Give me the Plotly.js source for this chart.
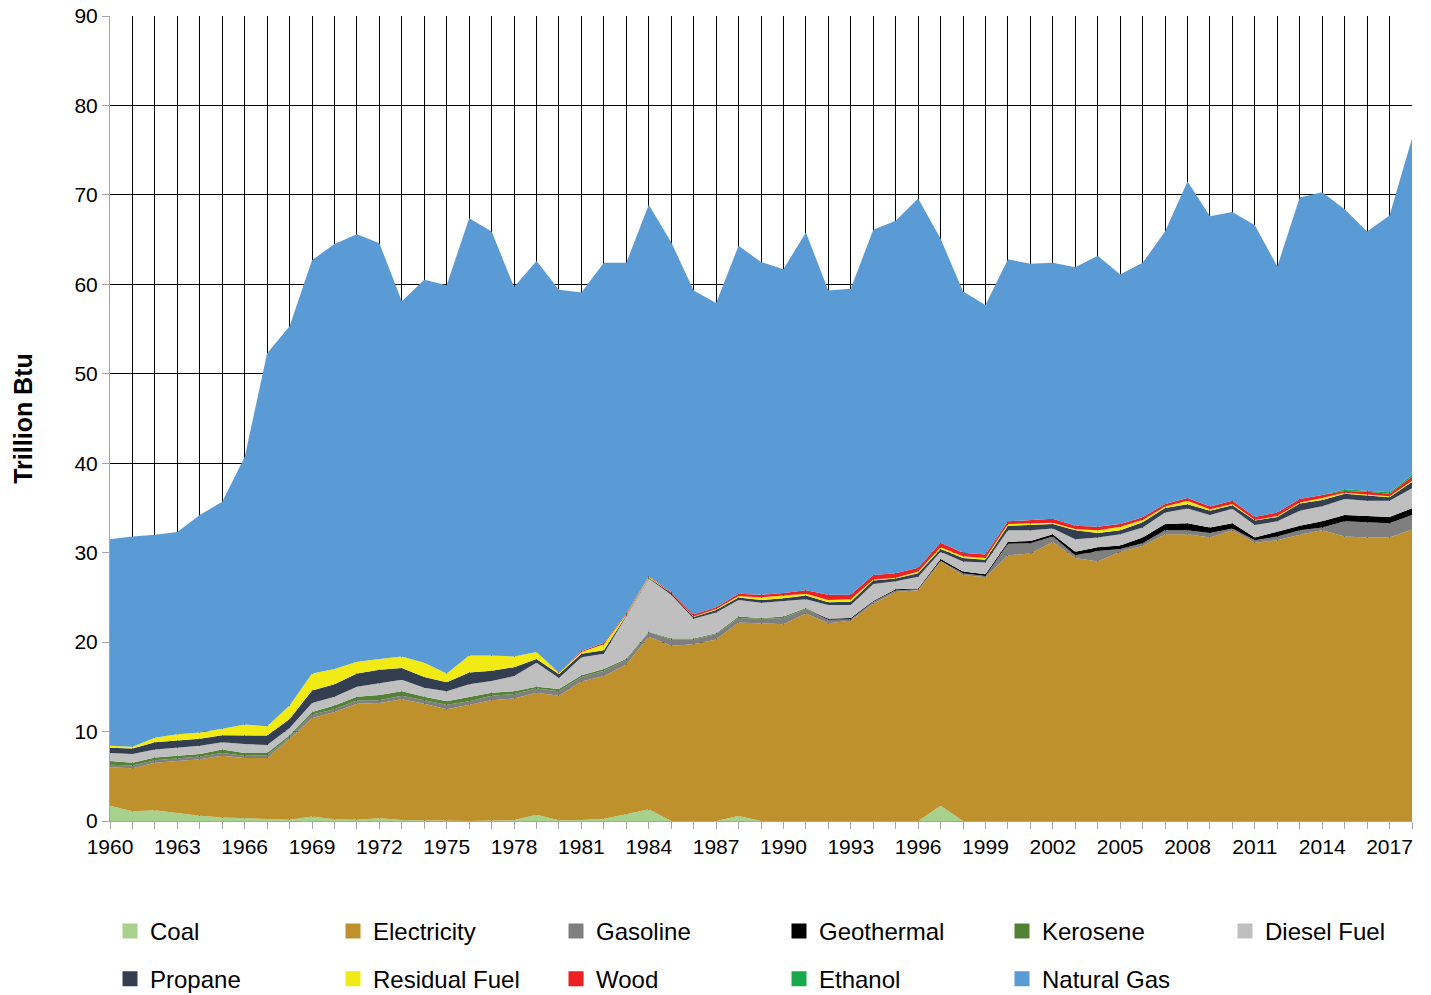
<!DOCTYPE html>
<html>
<head>
<meta charset="utf-8">
<script src="https://cdn.plot.ly/plotly-3.0.1.min.js"></script>
<style>html,body{margin:0;padding:0;background:#fff;}#chart{width:1431px;height:995px;}</style>
</head>
<body>
<div id="chart"></div>
<script>
const years = [
  1960,1961,1962,1963,1964,1965,1966,1967,1968,1969,
  1970,1971,1972,1973,1974,1975,1976,1977,1978,1979,
  1980,1981,1982,1983,1984,1985,1986,1987,1988,1989,
  1990,1991,1992,1993,1994,1995,1996,1997,1998,1999,
  2000,2001,2002,2003,2004,2005,2006,2007,2008,2009,
  2010,2011,2012,2013,2014,2015,2016,2017,2018];

const xTickLabels = ['1960','1963','1966','1969','1972','1975','1978','1981','1984','1987',
  '1990','1993','1996','1999','2002','2005','2008','2011','2014','2017'];

const coal = [
  1.7,1.1,1.2,0.9,0.6,0.4,0.3,0.2,0.15,0.5,
  0.2,0.15,0.3,0.1,0.05,0,0,0.05,0.1,0.7,
  0.07,0.1,0.26,0.75,1.3,0,0,0,0.55,0,
  0,0,0,0,0,0,0,1.7,0,0,
  0,0,0,0,0,0,0,0,0,0,
  0,0,0,0,0,0,0,0,0];
const electricity = [
  4.3,4.8,5.3,5.8,6.3,6.9,6.75,6.85,9.05,11.0,
  12.0,12.95,12.9,13.5,13.05,12.5,13.0,13.45,13.6,13.65,
  13.93,15.5,15.94,16.75,19.3,19.6,19.75,20.3,21.65,22.1,
  22.0,23.2,22.1,22.4,24.3,25.6,25.8,27.3,27.5,27.25,
  29.7,29.9,31.2,29.4,29.0,30.1,30.75,32.05,32.05,31.7,
  32.5,31.1,31.4,32.0,32.5,31.8,31.7,31.7,32.6];
const gasoline = [
  0.3,0.3,0.3,0.3,0.3,0.3,0.25,0.3,0.2,0.4,
  0.3,0.4,0.3,0.4,0.4,0.5,0.4,0.5,0.5,0.45,
  0.5,0.5,0.6,0.5,0.5,0.7,0.55,0.6,0.5,0.5,
  0.7,0.5,0.4,0.15,0.2,0.2,0.1,0.1,0.2,0.15,
  1.3,1.15,0.6,0.3,1.2,0.3,0.3,0.45,0.45,0.5,
  0.2,0.3,0.4,0.5,0.3,1.7,1.7,1.6,1.6];
const geothermal = [
  0,0,0,0,0,0,0,0,0,0,
  0,0,0,0,0,0,0,0,0,0,
  0,0,0,0,0,0,0,0,0,0,
  0,0,0.1,0.15,0.1,0.1,0.1,0.2,0.2,0.2,
  0.2,0.25,0.25,0.4,0.4,0.4,0.65,0.7,0.8,0.6,
  0.6,0.3,0.55,0.5,0.7,0.7,0.7,0.7,0.76];
const kerosene = [
  0.4,0.3,0.3,0.3,0.3,0.4,0.3,0.25,0.2,0.3,
  0.4,0.4,0.6,0.5,0.4,0.4,0.5,0.35,0.3,0.2,
  0.25,0.2,0.2,0.15,0.05,0.1,0.1,0.1,0.15,0.1,
  0.15,0.1,0,0,0,0,0,0,0,0,
  0,0,0,0,0,0,0,0,0,0,
  0,0,0,0,0,0,0,0,0];
const diesel = [
  0.9,1.0,0.9,0.9,0.9,0.8,1.0,0.9,0.8,1.0,
  1.0,1.1,1.3,1.3,1.0,1.1,1.4,1.3,1.7,2.7,
  1.25,2.0,1.7,4.75,5.95,4.9,2.2,2.3,1.85,1.7,
  1.75,1.0,1.55,1.45,1.9,0.9,1.3,0.8,1.1,1.3,
  1.3,1.2,0.65,1.4,1.1,1.25,1.1,1.3,1.65,1.4,
  1.6,1.4,1.15,1.7,1.7,1.8,1.7,1.8,2.24];
const propane = [
  0.6,0.6,0.8,0.8,0.8,0.8,0.95,1.05,1.0,1.4,
  1.4,1.5,1.5,1.3,1.2,1.0,1.3,1.15,1.0,0.4,
  0.4,0.4,0.4,0.1,0.1,0.2,0.2,0.3,0.3,0.3,
  0.3,0.4,0.3,0.35,0.4,0.3,0.4,0.3,0.4,0.3,
  0.5,0.6,0.5,1.0,0.5,0.45,0.6,0.5,0.45,0.5,
  0.4,0.5,0.5,0.8,0.7,0.6,0.6,0.4,0.7];
const residualFuel = [
  0.2,0.2,0.5,0.7,0.7,0.7,1.25,1.05,1.5,1.9,
  1.7,1.3,1.2,1.3,1.6,1.0,1.9,1.7,1.2,0.8,
  0.15,0.2,0.65,0.1,0.1,0,0.05,0.1,0.15,0.3,
  0.3,0.2,0.25,0.3,0.1,0.1,0.2,0.2,0.2,0.2,
  0.2,0.2,0.15,0.15,0.3,0.4,0.25,0.15,0.4,0.15,
  0.15,0.05,0.1,0.1,0.2,0.1,0.1,0.1,0.15];
const wood = [
  0,0,0,0,0,0,0,0,0,0,
  0,0,0,0,0,0,0,0,0,0,
  0.05,0.1,0.15,0.1,0.1,0.1,0.25,0.2,0.25,0.3,
  0.3,0.4,0.6,0.5,0.5,0.5,0.4,0.5,0.4,0.4,
  0.3,0.35,0.45,0.35,0.4,0.3,0.3,0.3,0.3,0.3,
  0.35,0.35,0.4,0.4,0.35,0.2,0.3,0.3,0.45];
const ethanol = [
  0,0,0,0,0,0,0,0,0,0,
  0,0,0,0,0,0,0,0,0,0,
  0,0,0,0,0,0,0,0,0,0,
  0,0,0,0,0,0,0,0,0,0,
  0,0,0,0,0,0,0,0,0,0,
  0,0,0,0,0,0.2,0.1,0.15,0.2];
const naturalGas = [
  23.1,23.5,22.7,22.6,24.3,25.4,29.9,41.7,42.4,46.2,
  47.5,47.8,46.5,39.7,42.8,43.4,48.9,47.4,41.3,43.7,
  42.8,40.1,42.5,39.2,41.5,39.1,36.2,34.0,38.9,37.2,
  36.2,40.0,34.0,34.2,38.6,39.4,41.3,34.0,29.2,27.9,
  29.3,28.65,28.6,28.9,30.3,27.9,28.45,30.45,35.4,32.45,
  32.3,32.6,27.5,33.7,33.85,31.3,29.0,30.95,37.6];

const seriesNames = ['Coal','Electricity','Gasoline','Geothermal','Kerosene','Diesel Fuel',
  'Propane','Residual Fuel','Wood','Ethanol','Natural Gas'];
const seriesValues = [coal, electricity, gasoline, geothermal, kerosene, diesel,
  propane, residualFuel, wood, ethanol, naturalGas];
const seriesColors = ['#a9d18e','#bf912d','#7f7f7f','#000000','#548235','#bfbfbf',
  '#333f50','#f2ea14','#ee2024','#1aa84c','#5b9bd5'];

const traces = [];
seriesNames.forEach((name, i) => {
  traces.push({
    type: 'scatter', mode: 'lines', name: name,
    x: years, y: seriesValues[i],
    stackgroup: 'one', fill: 'tonexty',
    fillcolor: seriesColors[i],
    line: {width: 0, color: seriesColors[i]},
    showlegend: false, hoverinfo: 'x+y+name'
  });
});
seriesNames.forEach((name, i) => {
  const t = {
    type: 'scatter', mode: 'markers', name: name,
    x: [null], y: [null],
    marker: {symbol: 'square', size: 15, color: seriesColors[i]},
    showlegend: true,
    legend: i < 6 ? 'legend' : 'legend2'
  };
  if (i === 5 || i === 10) t.legendwidth = 130;
  traces.push(t);
});

const tickText = years.map(y => xTickLabels.includes(String(y)) ? String(y) : '');
const fontFam = 'Arial, "Liberation Sans", sans-serif';

const legendCommon = {
  orientation: 'h', xanchor: 'left', yanchor: 'middle', traceorder: 'normal',
  font: {family: fontFam, size: 24, color: '#000'},
  entrywidth: 178, entrywidthmode: 'pixels',
  bgcolor: 'rgba(0,0,0,0)', borderwidth: 0, itemclick: false
};

const layout = {
  width: 1431, height: 995,
  margin: {l: 110, r: 19, t: 16, b: 174, autoexpand: false},
  paper_bgcolor: '#fff', plot_bgcolor: '#fff',
  font: {family: fontFam, color: '#000'},
  xaxis: {
    range: [1960, 2018], tickmode: 'array', tickvals: years, ticktext: tickText,
    showgrid: true, gridcolor: '#000', gridwidth: 1,
    showline: true, linecolor: '#a6a6a6', linewidth: 1,
    ticks: 'outside', ticklen: 7, tickcolor: '#a6a6a6', tickangle: 0,
    tickfont: {family: fontFam, size: 21, color: '#000'},
    zeroline: false, fixedrange: true
  },
  yaxis: {
    range: [0, 90], dtick: 10, tick0: 0,
    showgrid: true, gridcolor: '#000', gridwidth: 1,
    showline: true, linecolor: '#a6a6a6', linewidth: 1,
    ticks: 'outside', ticklen: 7, tickcolor: '#a6a6a6',
    tickfont: {family: fontFam, size: 21, color: '#000'},
    zeroline: false, fixedrange: true,
    title: {text: 'Trillion Btu', font: {family: fontFam, size: 25, color: '#000', weight: 700}, standoff: 34}
  },
  legend: Object.assign({x: 0.0, y: -0.137}, legendCommon),
  legend2: Object.assign({x: 0.0, y: -0.1965}, legendCommon),
  hovermode: 'closest'
};

Plotly.newPlot('chart', traces, layout, {displayModeBar: false, staticPlot: true});
</script>
</body>
</html>
